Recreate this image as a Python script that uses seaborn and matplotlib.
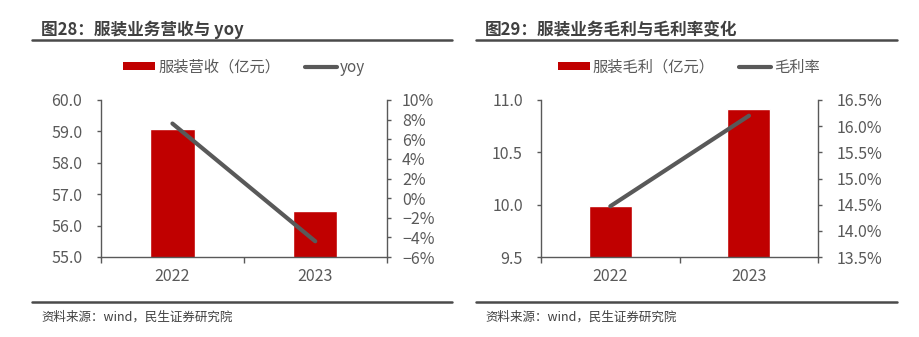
import matplotlib
matplotlib.use("Agg")
import matplotlib.pyplot as plt
from matplotlib.patches import Patch
from matplotlib.lines import Line2D
from matplotlib.ticker import PercentFormatter, FixedLocator, MultipleLocator
import seaborn as sns

# ---- data ----
years = ["2022", "2023"]
revenue = [59.07, 56.45]          # 服装营收（亿元）
revenue_yoy = [7.6, -4.4]         # yoy, %
gross_profit = [9.99, 10.91]      # 服装毛利（亿元）
gross_margin = [14.47, 16.20]     # 毛利率, %

titles = ["图28：服装业务营收与 yoy", "图29：服装业务毛利与毛利率变化"]
bar_labels = ["服装营收（亿元）", "服装毛利（亿元）"]
line_labels = ["yoy", "毛利率"]
source = "资料来源：wind，民生证券研究院"

# ---- style ----
sns.set_theme(style="white")
plt.rcParams["font.family"] = ["Noto Sans CJK SC", "DejaVu Sans"]
RED = "#C00000"
LINE = "#595959"
AX = "#595959"
TXT = "#595959"
DARK = "#404040"
TICK_FS = 11.5

W, H = 920, 337
fig = plt.figure(figsize=(W / 100, H / 100), dpi=100)


def px_rect(x0, x1, y0, y1):
    return [x0 / W, 1 - y1 / H, (x1 - x0) / W, (y1 - y0) / H]


def style_axes(ax, ax2, left_pad, right_pad):
    for a in (ax, ax2):
        a.spines["top"].set_visible(False)
        for s in a.spines.values():
            s.set_color(AX)
            s.set_linewidth(1.0)
    ax.spines["right"].set_visible(False)
    ax2.spines["left"].set_visible(False)
    ax2.spines["bottom"].set_visible(False)
    ax.tick_params(axis="y", which="both", left=True, length=3, width=1, color=AX,
                   labelcolor=TXT, labelsize=TICK_FS, pad=left_pad)
    ax2.tick_params(axis="y", which="both", right=True, length=3, width=1, color=AX,
                    labelcolor=TXT, labelsize=TICK_FS, pad=right_pad)
    # category labels centred, tick marks on category boundaries
    ax.set_xlim(-0.5, len(years) - 0.5)
    ax.xaxis.set_minor_locator(FixedLocator([i - 0.5 for i in range(len(years) + 1)]))
    ax.tick_params(axis="x", which="major", length=0, labelcolor=TXT,
                   labelsize=TICK_FS, pad=8)
    ax.tick_params(axis="x", which="minor", bottom=True, length=4, width=1, color=AX)
    for a in (ax, ax2):
        a.set_xlabel("")
        a.set_ylabel("")
        a.grid(False)


def panel(rect, bars, line, ylim, ystep, y2lim, y2step, y2dec, ydec, left_pad, right_pad):
    ax = fig.add_axes(rect)
    sns.barplot(x=years, y=bars, ax=ax, color=RED, width=0.31, saturation=1)
    ax.set_ylim(*ylim)
    ax.yaxis.set_major_locator(MultipleLocator(ystep))
    ax.yaxis.set_major_formatter(plt.FormatStrFormatter(f"%.{ydec}f"))
    ax2 = ax.twinx()
    sns.pointplot(x=years, y=line, ax=ax2, color=LINE, markers="", linestyles="-",
                  lw=3.0)
    for ln in ax2.lines:
        ln.set_linewidth(3.0)
        ln.set_solid_capstyle("round")
    ax2.set_ylim(*y2lim)
    ax2.yaxis.set_major_locator(MultipleLocator(y2step))
    ax2.yaxis.set_major_formatter(PercentFormatter(decimals=y2dec))
    style_axes(ax, ax2, left_pad, right_pad)
    ax.set_xlim(-0.5, len(years) - 0.5)
    return ax, ax2


axL, axL2 = panel(px_rect(101, 386.7, 100, 257), revenue, revenue_yoy,
                  (55, 60), 1, (-6, 10), 2, 0, 1, 10.5, 8)
axR, axR2 = panel(px_rect(541, 818.3, 100, 257), gross_profit, gross_margin,
                  (9.5, 11.0), 0.5, (13.5, 16.5), 0.5, 1, 1, 10, 10)

# legends
for bl, ll, cx in ((bar_labels[0], line_labels[0], 244),
                   (bar_labels[1], line_labels[1], 689)):
    handles = [Patch(facecolor=RED, edgecolor="none", label=bl),
               Line2D([0], [0], color=LINE, lw=3.0, label=ll)]
    fig.legend(handles=handles, loc="center", bbox_to_anchor=(cx / W, 1 - 67 / H),
               ncol=2, frameon=False, fontsize=11, labelcolor=TXT,
               handlelength=2.1, handleheight=0.5, handletextpad=0.2,
               columnspacing=1.6, borderaxespad=0, borderpad=0)

# titles, rules and source notes
for x0, x1, tx, title in ((32, 452, 41, titles[0]), (476, 897, 485, titles[1])):
    fig.text(tx / W, 1 - 30 / H, title, fontsize=12, fontweight="bold",
             color=DARK, ha="left", va="center")
    fig.add_artist(Line2D([x0 / W, x1 / W], [1 - 40 / H, 1 - 40 / H],
                          color="#4a4a4a", lw=1.8))
    fig.add_artist(Line2D([x0 / W, x1 / W], [1 - 302 / H, 1 - 302 / H],
                          color="#4a4a4a", lw=1.8))
    fig.text(tx / W, 1 - 317 / H, source, fontsize=9, color=DARK,
             ha="left", va="center")

fig.savefig("out.png", dpi=100, facecolor="white")
